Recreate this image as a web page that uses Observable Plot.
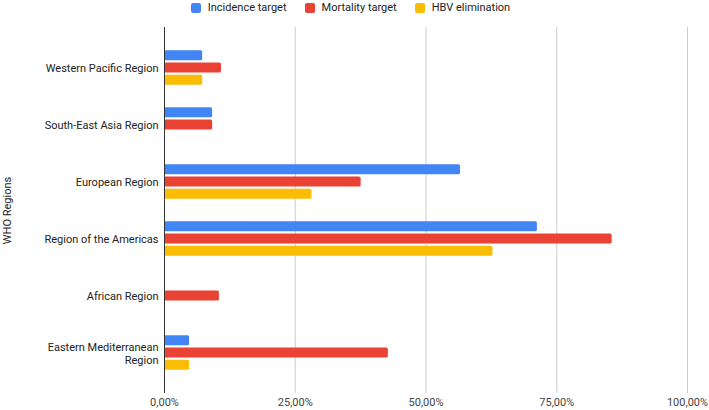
<!DOCTYPE html>
<html>
<head>
<meta charset="utf-8">
<script src="https://cdn.jsdelivr.net/npm/d3@7"></script>
<script src="https://cdn.jsdelivr.net/npm/@observablehq/plot@0.6"></script>
<style>
  body { margin: 0; background: #fff; font-family: Roboto, "Noto Sans", sans-serif; }
  #legend { height: 16px; line-height: 16px; display: flex; justify-content: center; font-size: 11px; color: #222; padding-right: 8px; }
  .item { display: flex; align-items: center; margin: 0 9px; }
  .sw { width: 10px; height: 10px; border-radius: 2px; margin-right: 7px; }
</style>
</head>
<body>
<div id="legend"></div>
<div id="chart"></div>
<script>
const regions = ["Western Pacific Region", "South-East Asia Region", "European Region", "Region of the Americas", "African Region", "Eastern Mediterranean Region"];
const seriesNames = ["Incidence target", "Mortality target", "HBV elimination"];
const seriesColors = ["#4285F4", "#EA4335", "#FBBC04"];
const incidence = [7.3, 9.2, 56.6, 71.3, null, 4.8];
const mortality = [10.9, 9.2, 37.6, 85.6, 10.5, 42.8];
const hbv = [7.3, null, 28.2, 62.8, null, 4.8];
const xTicks = [0, 25, 50, 75, 100];
const yLabel = "WHO Regions";

const seriesValues = [incidence, mortality, hbv];
const rows = seriesValues.map(vals =>
  regions.map((r, i) => ({region: r, value: vals[i]})).filter(d => d.value != null)
);

// legend
const legend = document.getElementById("legend");
seriesNames.forEach((n, i) => {
  const it = document.createElement("div");
  it.className = "item";
  it.innerHTML = `<span class="sw" style="background:${seriesColors[i]}"></span><span>${n}</span>`;
  legend.appendChild(it);
});

const barH = 10.5, step = 12.3, bw = 57.6;
const insets = [-1, 0, 1].map(k => {
  const top = bw / 2 - barH / 2 + k * step;
  return {insetTop: top, insetBottom: bw - top - barH};
});

const fmt = d => d.toFixed(2).replace(".", ",") + "%";

const chart = Plot.plot({
  width: 709,
  height: 394,
  marginLeft: 164,
  marginRight: 22,
  marginTop: 11,
  marginBottom: 17,
  style: {fontFamily: "Roboto, 'Noto Sans', sans-serif", fontSize: "11px", color: "#222"},
  x: {domain: [0, 100]},
  y: {domain: regions, paddingInner: 0, paddingOuter: 0.177},
  marks: [
    Plot.ruleX(xTicks.filter(d => d > 0), {stroke: "#cccccc", strokeWidth: 1}),
    ...rows.map((data, i) => Plot.barX(data, {
      x: "value", y: "region", fill: seriesColors[i], rx: 1.5,
      insetTop: insets[i].insetTop, insetBottom: insets[i].insetBottom
    })),
    Plot.ruleX([0], {stroke: "#333333", strokeWidth: 1}),
    Plot.axisY({tickSize: 0, tickPadding: 6, label: null, fill: "#222", lineHeight: 1.18,
      tickFormat: d => d === "Eastern Mediterranean Region" ? "Eastern Mediterranean\nRegion" : d}),
    Plot.axisX({ticks: xTicks, tickSize: 0, tickPadding: 5, tickFormat: fmt, label: null, fill: "#444"}),
    Plot.text([yLabel], {frameAnchor: "left", textAnchor: "middle", dx: -157, rotate: -90, fill: "#222", fontSize: 11})
  ]
});
document.getElementById("chart").appendChild(chart);
</script>
</body>
</html>
